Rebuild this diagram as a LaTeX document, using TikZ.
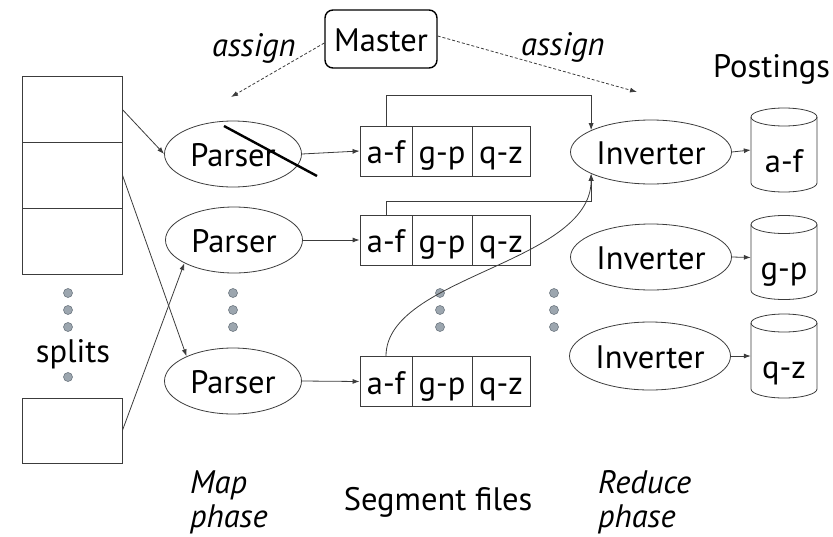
\documentclass[tikz,border=0pt]{standalone}
\usepackage{fontspec}
\setmainfont{PT Sans}
\usetikzlibrary{shapes.geometric,arrows.meta,calc}
\definecolor{lncol}{HTML}{3C3C3C}
\definecolor{dotfill}{HTML}{9CA6AF}
\definecolor{dotdraw}{HTML}{6E7881}
\begin{document}
\begin{tikzpicture}[x=1pt,y=-1pt,
  txt/.style={font=\fontsize{32.5}{38}\selectfont, inner sep=0pt},
  ln/.style={draw=lncol, line width=0.8pt},
  arr/.style={ln, -{Latex[length=7pt,width=5pt]}},
  dsh/.style={arr, dash pattern=on 3pt off 2pt},
  splitbox/.style={ln, minimum width=100pt, minimum height=66pt, inner sep=0pt},
  parser/.style={ellipse, ln, minimum width=137pt, minimum height=66pt, inner sep=0pt, txt, text height=25pt, text depth=0pt},
  inv/.style={ellipse, ln, minimum width=161pt, minimum height=64pt, inner sep=0pt, txt, text height=25pt, text depth=0pt},
  cell/.style={ln, minimum height=50pt, inner sep=0pt, txt, text height=25pt, text depth=0pt},
  cylbox/.style={minimum width=66pt, minimum height=84pt, inner sep=0pt},
  dot/.style={circle, fill=dotfill, draw=dotdraw, line width=0.6pt, minimum size=9pt, inner sep=0pt},
  master/.style={ln, line width=1.4pt, draw=black, rounded corners=8pt, minimum width=112pt, minimum height=58pt, inner sep=0pt, txt, text height=24pt, text depth=0pt},
  ]
\useasboundingbox (0,0) rectangle (833,536);

% splits
\node[splitbox] (s1) at (72,109.5) {};
\node[splitbox] (s2) at (72,175) {};
\node[splitbox] (s3) at (72,241) {};
\node[splitbox, minimum height=65pt] (s4) at (72,430.5) {};
\foreach \y [count=\i] in {293,310,327,377} \node[dot] (sd\i) at (68,\y) {};
\node[txt, anchor=base] (splits) at (73,362) {splits};

% parsers
\node[parser] (p1) at (233,154) {Parser};
\node[parser] (p2) at (234,240) {Parser};
\node[parser] (p3) at (233,381) {Parser};
\foreach \y [count=\i] in {293,310,327} \node[dot] (pd\i) at (233,\y) {};
\draw[black, line width=2.4pt] (224,126) -- (317,176);

% segment files
\foreach \r/\y in {1/151,2/240,3/381.5} {
  \node[cell, minimum width=52pt] (r\r a) at (386,\y) {a-f};
  \node[cell, minimum width=60pt] (r\r b) at (442,\y) {g-p};
  \node[cell, minimum width=58pt] (r\r c) at (501,\y) {q-z};
}
\foreach \y [count=\i] in {293,310,327} \node[dot] (fd\i) at (440,\y) {};

% inverters
\node[inv] (i1) at (651,152) {Inverter};
\node[inv, minimum height=66pt] (i2) at (651,257) {Inverter};
\node[inv, minimum height=68pt] (i3) at (650,356) {Inverter};
\foreach \y [count=\i] in {293,310,327} \node[dot] (id\i) at (554,\y) {};

% postings
\node[txt, anchor=base west] (post) at (713,77) {Postings};
\foreach \n/\y/\t in {c1/150/a-f, c2/257.5/g-p, c3/356/q-z} {
  \node[cylbox] (\n) at (784,\y) {};
  \draw[ln] (784,\y-33) ellipse [x radius=33pt, y radius=9pt];
  \draw[ln] (751,\y-33) -- (751,\y+33) arc[start angle=180, end angle=360, x radius=33pt, y radius=9pt] -- (817,\y-33);
  \node[txt, anchor=base] (\n t) at (784,\y+22) {\t};
}

% master
\node[master] (m) at (381,39) {Master};
\node[txt, anchor=base west] (as1) at (212,56) {\itshape assign};
\node[txt, anchor=base west] (as2) at (521,55) {\itshape assign};
\coordinate (mt1) at (231,97);
\coordinate (mt2) at (637,92);
\draw[dsh] (m.west) ++(0,4) -- (mt1);
\draw[dsh] (m.east) ++(0,-3) -- (mt2);

% split -> parser
\draw[arr] (s1.east) -- (p1.west);
\draw[arr] (s2.east) -- (p3.152);
\draw[arr] (s4.east) -- (p2.205);

% parser -> segment
\draw[arr] (p1.east) -- (r1a.west);
\draw[arr] (p2.east) -- (r2a.west);
\draw[arr] (p3.east) -- (r3a.west);

% segment -> inverter 1
\draw[arr] (r1a.north) -- ++(0,-30) -| (i1.160);
\draw[arr] (r2a.north) -- ++(0,-13) -| (i1.200);
\draw[arr] (r3a.north) .. controls +(0,-80) and +(0,90) .. (i1.200);

% inverter -> postings
\draw[arr] (i1.east) -- (c1.west);
\draw[arr] (i2.east) -- (c2.west);
\draw[arr] (i3.east) -- (c3.west);

% phase labels
\node[txt, anchor=base west] (map1) at (190,493) {\itshape Map};
\node[txt, anchor=base west] (map2) at (190,527) {\itshape phase};
\node[txt, anchor=base] (seg) at (438,510) {Segment files};
\node[txt, anchor=base west] (red1) at (598,493) {\itshape Reduce};
\node[txt, anchor=base west] (red2) at (598,527) {\itshape phase};
\end{tikzpicture}
\end{document}
